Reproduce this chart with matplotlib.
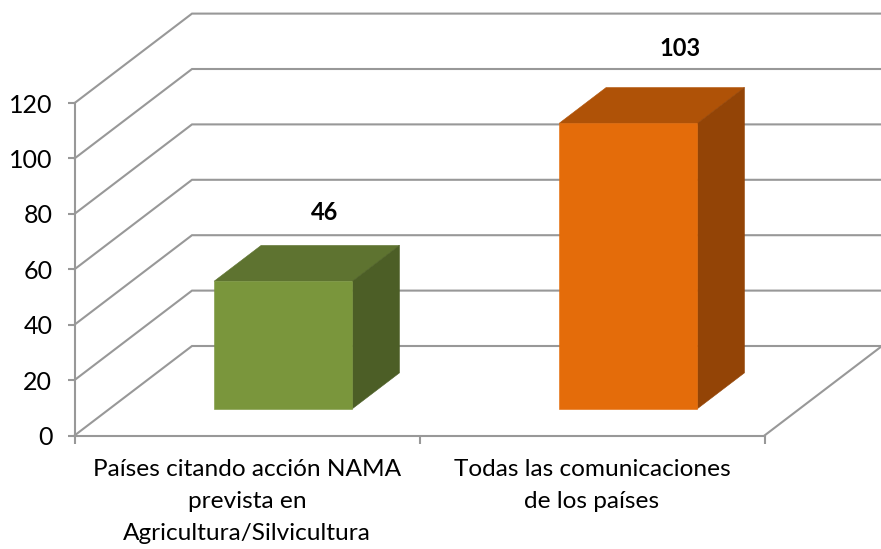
import matplotlib
matplotlib.use("Agg")
import matplotlib.pyplot as plt
from matplotlib.patches import Polygon

plt.rcParams['font.family'] = ['Lato', 'DejaVu Sans']

categories = ["Países citando acción NAMA\nprevista en\nAgricultura/Silvicultura",
              "Todas las comunicaciones\nde los países"]
values = [46, 103]
y_ticks = [0, 20, 40, 60, 80, 100, 120]
front_colors = ["#7a963c", "#e46c0a"]
top_colors = ["#5e7330", "#af5207"]
side_colors = ["#4c5e26", "#934406"]
label_offsets = [(18, 50.5), (28.5, 57)]

W, H = 881, 549
X0, PX_CAT = 74.5, 345        # pixel of category 0, pixels per category
Y0, PX_VAL = 435.5, 2.77      # pixel of value 0, pixels per unit
DX, DY = 117.5, 89.5          # depth of the 3-D box in pixels

fig = plt.figure(figsize=(W / 100, H / 100), dpi=100, facecolor="white")
ax = fig.add_axes([0, 0, 1, 1])
ax.set_xlim(-X0 / PX_CAT, (W - X0) / PX_CAT)
ax.set_ylim(-(H - Y0) / PX_VAL, Y0 / PX_VAL)
ax.patch.set_visible(False)


def proj(x, y, d=0.0):
    """Project category/value/depth onto the oblique 2-D axes."""
    return (x + d * DX / PX_CAT, y + d * DY / PX_VAL)


GRID = "#989898"
LW = 1.5
n = len(categories)

# walls and floor
for t in y_ticks:
    a, b, c = proj(0, t, 0), proj(0, t, 1), proj(n, t, 1)
    ax.plot([a[0], b[0], c[0]], [a[1], b[1], c[1]], color=GRID, lw=LW, zorder=1,
            solid_joinstyle="miter")
a, b = proj(n, 0, 0), proj(n, 0, 1)
ax.plot([a[0], b[0]], [a[1], b[1]], color=GRID, lw=LW, zorder=1)

# bars
BAR_W = 0.401
D0, D1 = 0.30, 0.70
for i, v in enumerate(values):
    xc = i + 0.503
    l, r = xc - BAR_W / 2, xc + BAR_W / 2
    ax.add_patch(Polygon([proj(l, v, D0), proj(r, v, D0), proj(r, v, D1), proj(l, v, D1)],
                         fc=top_colors[i], ec=top_colors[i], lw=0.4, zorder=3))
    ax.add_patch(Polygon([proj(r, 0, D0), proj(r, 0, D1), proj(r, v, D1), proj(r, v, D0)],
                         fc=side_colors[i], ec=side_colors[i], lw=0.4, zorder=3))
    ax.add_patch(Polygon([proj(l, 0, D0), proj(r, 0, D0), proj(r, v, D0), proj(l, v, D0)],
                         fc=front_colors[i], ec=front_colors[i], lw=0.4, zorder=4))
    ax.annotate(str(v), xy=proj(xc, v, (D0 + D1) / 2),
                xytext=(label_offsets[i][0] * 0.72, label_offsets[i][1] * 0.72),
                textcoords="offset points", ha="center", va="center",
                fontsize=17, fontweight="bold", color="black", zorder=5)

# axes
for s in ("top", "right"):
    ax.spines[s].set_visible(False)
ax.spines["left"].set_position(("data", 0))
ax.spines["left"].set_bounds(0, 120)
ax.spines["bottom"].set_position(("data", 0))
ax.spines["bottom"].set_bounds(0, n)
for s in ("left", "bottom"):
    ax.spines[s].set_color(GRID)
    ax.spines[s].set_linewidth(LW)
    ax.spines[s].set_zorder(2)

ax.set_yticks(y_ticks)
ax.set_xticks(range(n + 1))
ax.set_xticklabels([])
ax.set_xticks([i + 0.5 for i in range(n)], minor=True)
ax.set_xticklabels(categories, minor=True, fontsize=17.6, linespacing=1.65, color="black")
ax.tick_params(axis="y", length=5, width=LW, color=GRID, labelsize=18, pad=11, labelcolor="black")
ax.tick_params(axis="x", which="major", length=5.5, width=LW, color=GRID)
ax.tick_params(axis="x", which="minor", length=0, pad=17)

fig.savefig("out.png", dpi=100, facecolor="white")
